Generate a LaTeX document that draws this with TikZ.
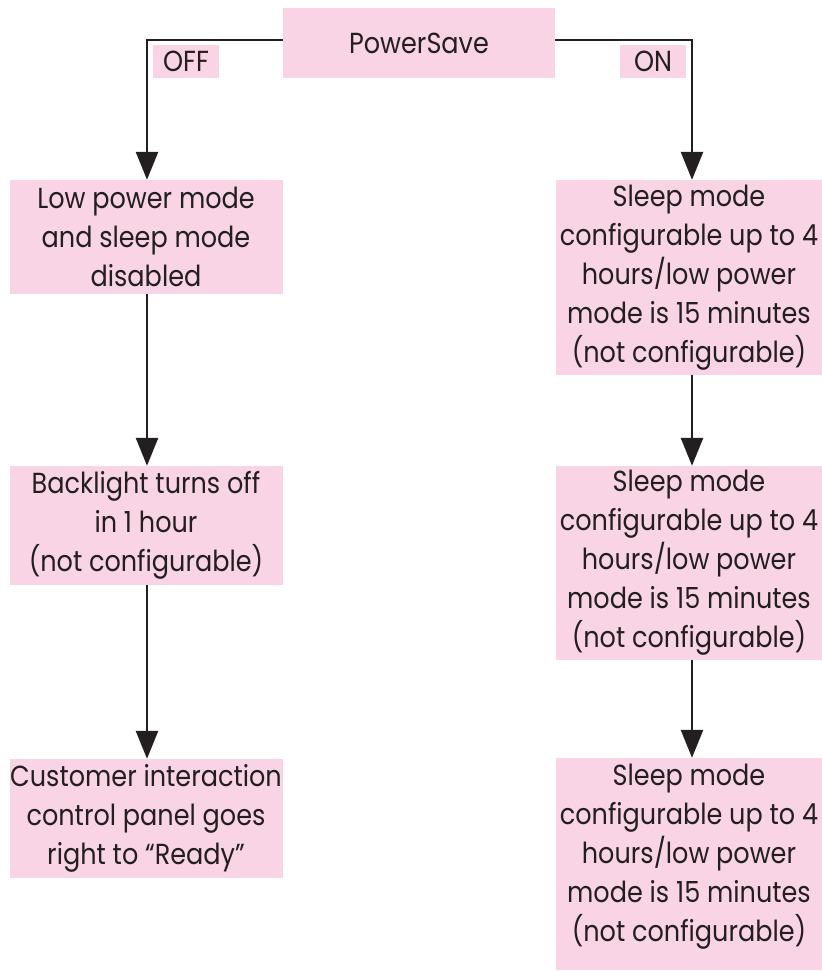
\documentclass[tikz,border=0pt]{standalone}
\usepackage{fontspec}
\setmainfont{Poppins}[FakeStretch=0.88]
\usetikzlibrary{arrows.meta}
\definecolor{boxpink}{RGB}{248,212,228}
\definecolor{inkline}{RGB}{35,31,32}
\tikzset{
  box/.style={fill=boxpink, inner sep=0pt, align=center, text=inkline,
    font=\fontsize{29}{39}\selectfont},
  tag/.style={fill=boxpink, inner sep=0pt, text=inkline,
    minimum width=66pt, minimum height=33pt, font=\fontsize{29}{39}\selectfont},
  conn/.style={draw=inkline, line width=2.6pt,
    -{Triangle[length=28pt,width=22pt]}}
}
\begin{document}
\begin{tikzpicture}[x=1pt,y=-1pt]
\useasboundingbox (0,0) rectangle (822,972);
\node[box, minimum width=272pt, minimum height=70pt] (ps) at (419,43) {PowerSave};
\node[tag] (off) at (186,61.5) {OFF};
\node[tag] (on) at (653,61.5) {ON};
\node[box, minimum width=273pt, minimum height=114pt] (l1) at (146,237)
  {Low power mode\\and sleep mode\\disabled};
\node[box, minimum width=273pt, minimum height=119pt] (l2) at (146,525.5)
  {Backlight turns off\\in 1 hour\\(not configurable)};
\node[box, minimum width=273pt, minimum height=119pt] (l3) at (146,818.5)
  {Customer interaction\\control panel goes\\right to ``Ready''};
\node[box, minimum width=266pt, minimum height=195pt] (r1) at (689,277.5)
  {Sleep mode\\configurable up to 4\\hours/low power\\mode is 15 minutes\\(not configurable)};
\node[box, minimum width=266pt, minimum height=194pt] (r2) at (689,563)
  {Sleep mode\\configurable up to 4\\hours/low power\\mode is 15 minutes\\(not configurable)};
\node[box, minimum width=266pt, minimum height=212pt] (r3) at (689,864)
  {Sleep mode\\configurable up to 4\\hours/low power\\mode is 15 minutes\\(not configurable)\rule[-22pt]{0pt}{1pt}};
\draw[conn] ([yshift=3pt]ps.west) -| ([xshift=1pt]l1.north);
\draw[conn] ([yshift=3pt]ps.east) -| ([xshift=3pt]r1.north);
\draw[conn] ([xshift=1pt]l1.south) -- ([xshift=1pt]l2.north);
\draw[conn] ([xshift=1pt]l2.south) -- ([xshift=1pt]l3.north);
\draw[conn] ([xshift=3pt]r1.south) -- ([xshift=3pt]r2.north);
\draw[conn] ([xshift=3pt]r2.south) -- ([xshift=3pt]r3.north);
\end{tikzpicture}
\end{document}
